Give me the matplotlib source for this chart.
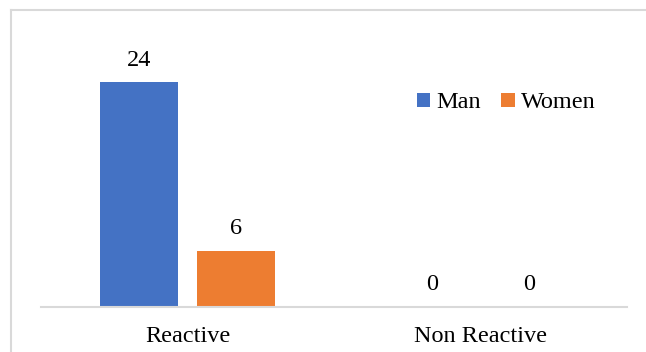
import matplotlib.pyplot as plt
from matplotlib.lines import Line2D
import numpy as np

# chart data
categories = ['Reactive', 'Non Reactive']
series_names = ['Man', 'Women']
man_counts = [24, 0]
women_counts = [6, 0]

colors = ['#4472C4', '#ED7D31']
grey = '#D9D9D9'
fs = 17.5

plt.rcParams['font.family'] = ['Liberation Serif', 'DejaVu Serif']

W, H = 646, 352
fig = plt.figure(figsize=(W / 100, H / 100), dpi=100)
ax = fig.add_axes([41 / W, 1 - 307 / H, (627 - 41) / W, (307 - 26) / H])

x = np.arange(len(categories))
width = 0.266
offset = 0.166

for vals, name, col, sign in zip([man_counts, women_counts], series_names, colors, [-1, 1]):
    bars = ax.bar(x + sign * offset, vals, width, color=col, label=name)
    for b, v in zip(bars, vals):
        ax.annotate(str(v), (b.get_x() + b.get_width() / 2, b.get_height()),
                    xytext=(0, 12), textcoords='offset points',
                    ha='center', va='baseline', fontsize=fs, color='#000000')

ax.set_xlim(-0.5, 1.5)
ax.set_ylim(0, 30)
ax.set_xticks(x)
ax.set_xticklabels(categories, fontsize=fs)
ax.tick_params(axis='x', length=0, pad=14)
ax.set_yticks([])
for s in ['top', 'right', 'left']:
    ax.spines[s].set_visible(False)
ax.spines['bottom'].set_color(grey)
ax.spines['bottom'].set_linewidth(1.5)

leg = fig.legend(loc='center', bbox_to_anchor=(506 / W, 1 - 103 / H), ncol=2,
                 frameon=False, fontsize=fs, handlelength=0.55, handleheight=0.55,
                 handletextpad=0.25, columnspacing=0.85, borderpad=0)

# outer chart frame (left and top edges fall inside the image)
fig.add_artist(Line2D([11 / W, 11 / W], [0, 1 - 10 / H], color=grey, lw=1.5))
fig.add_artist(Line2D([11 / W, 1], [1 - 10 / H, 1 - 10 / H], color=grey, lw=1.5))

fig.savefig('out.png', dpi=100)
